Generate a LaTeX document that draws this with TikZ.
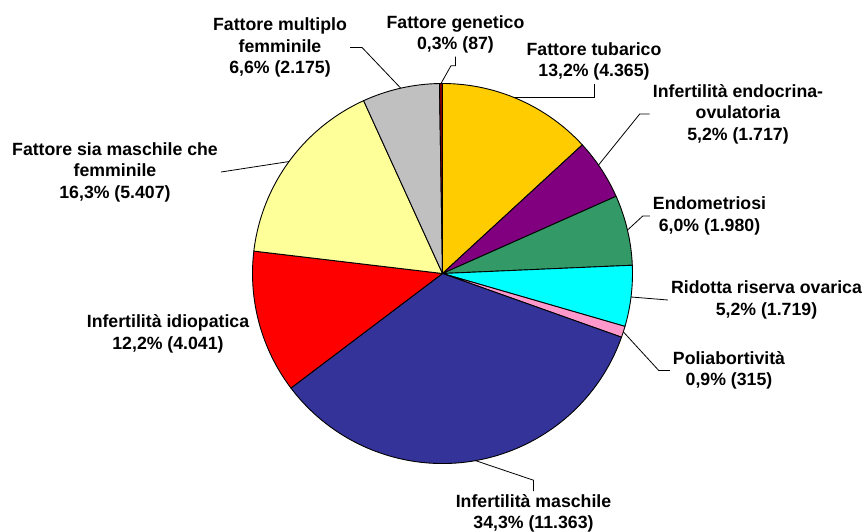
\documentclass[tikz,border=0pt]{standalone}
\usepackage{fontspec}
\setmainfont{Liberation Sans}
\definecolor{ctub}{HTML}{FFCC00}
\definecolor{cendo}{HTML}{800080}
\definecolor{cendom}{HTML}{339966}
\definecolor{crid}{HTML}{00FFFF}
\definecolor{cpoli}{HTML}{FF99CC}
\definecolor{cmasc}{HTML}{333399}
\definecolor{cidio}{HTML}{FF0000}
\definecolor{csia}{HTML}{FFFF99}
\definecolor{cmult}{HTML}{C0C0C0}
\definecolor{cgen}{HTML}{800000}
\begin{document}
\begin{tikzpicture}[x=1pt,y=1pt,
  slice/.style={draw=black, line width=0.9pt, line join=round},
  lbl/.style={font=\fontsize{17.7}{21.5}\selectfont\bfseries, align=center, inner sep=3pt, text=black},
  leader/.style={draw=black, line width=0.8pt}]
\useasboundingbox[fill=white] (0,0) rectangle (864,531);
\coordinate (c) at (442.5,257.5);
\def\R{190}
\foreach \a/\b/\col in {90/42.62/ctub, 42.62/23.98/cendo, 23.98/2.49/cendom, 2.49/-16.17/crid, -16.17/-19.59/cpoli, -19.59/-142.92/cmasc, -142.92/-186.78/cidio, -186.78/-245.47/csia, -245.47/-269.08/cmult, -269.08/-270/cgen}{
  \filldraw[slice, fill=\col] (c) -- ++(\a:\R) arc[start angle=\a, end angle=\b, radius=\R] -- cycle;
}
% points on the rim for leader lines
\path (c) ++(90.46:\R) coordinate (pg);
\path (c) ++(68.3:\R) coordinate (pt);
\path (c) ++(34.8:\R) coordinate (pe);
\path (c) ++(13.2:\R) coordinate (pd);
\path (c) ++(-7.1:\R) coordinate (pr);
\path (c) ++(-17.88:\R) coordinate (pp);
\path (c) ++(-80:\R) coordinate (pm);
\path (c) ++(143.9:\R) coordinate (ps);
\path (c) ++(102.7:\R) coordinate (pmu);
% labels
\node[lbl] (g) at (455.5,496.5) {Fattore genetico\\0,3\% (87)};
\node[lbl] (t) at (594,469.5) {Fattore tubarico\\13,2\% (4.365)};
\node[lbl] (e) at (738,417) {Infertilità endocrina-\\ovulatoria\\5,2\% (1.717)};
\node[lbl] (d) at (709.5,315) {Endometriosi\\6,0\% (1.980)};
\node[lbl] (r) at (766.5,231) {Ridotta riserva ovarica\\5,2\% (1.719)};
\node[lbl] (p) at (729,160.5) {Poliabortività\\0,9\% (315)};
\node[lbl] (m) at (533.5,17.5) {Infertilità maschile\\34,3\% (11.363)};
\node[lbl] (i) at (168,197) {Infertilità idiopatica\\12,2\% (4.041)};
\node[lbl] (s) at (115,359) {Fattore sia maschile che\\femminile\\16,3\% (5.407)};
\node[lbl] (mu) at (280,483.5) {Fattore multiplo\\femminile\\6,6\% (2.175)};
% leaders
\draw[leader] (g.south) -- ++(0,-9) -- ++(-4.5,0) -- (pg);
\draw[leader] (t.south) |- (pt);
\draw[leader] (e.west) -- ++(-10,0) -- (pe);
\draw[leader] (d.west) -- ++(-7,0) -- (pd);
\draw[leader] (r.west) -- (pr);
\draw[leader] (p.west) -- ++(-11,0) -- (pp);
\draw[leader] (m.north) -- ++(0,11) -- (pm);
\draw[leader] (s.east) -- (ps);
\draw[leader] (mu.east) -- ++(12,0) -- (pmu);
\end{tikzpicture}
\end{document}
